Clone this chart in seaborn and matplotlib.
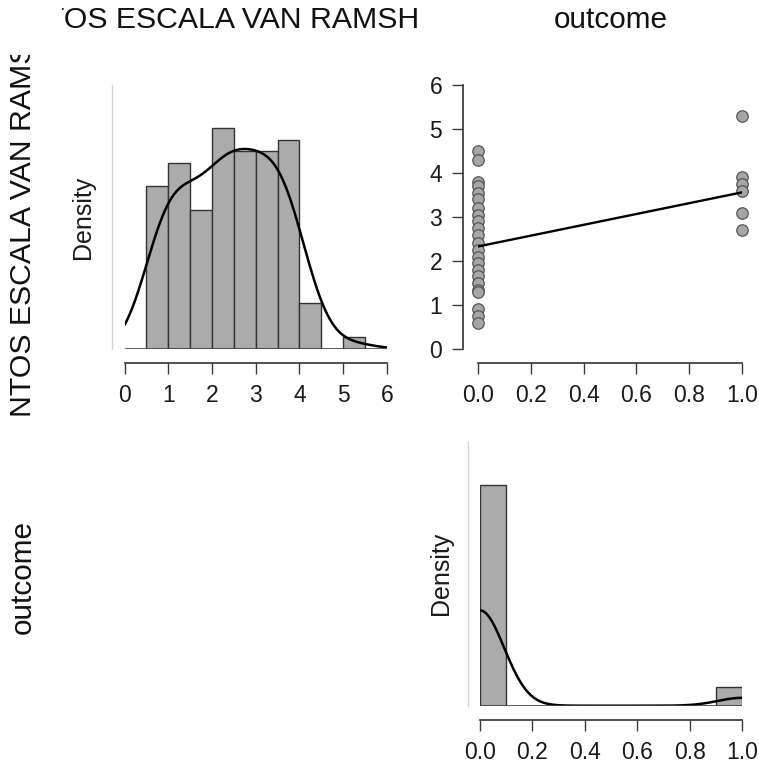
import numpy as np
import pandas as pd
import matplotlib.pyplot as plt
import seaborn as sns
from matplotlib.transforms import Bbox

# ---------------------------------------------------------
# data
# ---------------------------------------------------------
score_label = "PUNTOS ESCALA VAN RAMSHORST"
outcome_label = "outcome"

# histogram of the scale score (counts per bin of width 0.5)
score_bin_edges = [0.5, 1.0, 1.5, 2.0, 2.5, 3.0, 3.5, 4.0, 4.5, 5.0, 5.5]
score_bin_counts = [14, 16, 12, 19, 17, 17, 18, 4, 0, 1]

# outcome (binary) counts
outcome_levels = [0, 1]
outcome_counts = [109, 9]
outcome_bin_edges = [0.0, 0.1, 0.2, 0.3, 0.4, 0.5, 0.6, 0.7, 0.8, 0.9, 1.0]

# scatter: distinct score values seen in each outcome group
score_outcome0 = [4.5, 4.3, 3.8, 3.7, 3.55, 3.4, 3.2, 3.05, 2.9, 2.75, 2.6,
                  2.4, 2.25, 2.1, 1.95, 1.8, 1.65, 1.5, 1.35, 1.3,
                  0.9, 0.75, 0.6]
score_outcome1 = [5.3, 3.9, 3.75, 3.6, 3.1, 2.7]
outcome_group_means = [2.33, 3.56]

score_ticks = [0, 1, 2, 3, 4, 5, 6]
outcome_ticks = [0.0, 0.2, 0.4, 0.6, 0.8, 1.0]

# ---------------------------------------------------------
# figure setup
# ---------------------------------------------------------
sns.set_theme(style="white")
plt.rcParams['font.family'] = ['Liberation Sans', 'DejaVu Sans']

W, H = 759, 765
fig = plt.figure(figsize=(W / 100, H / 100), dpi=100)
renderer = fig.canvas.get_renderer()


def px_axes(left, top, right, bottom):
    return fig.add_axes([left / W, 1 - bottom / H, (right - left) / W, (bottom - top) / H])


def px_text(x, y, s, clip=None, **kw):
    t = fig.text(x / W, 1 - y / H, s, **kw)
    if clip is not None:
        x0, y0, x1, y1 = clip
        t.set_clip_box(Bbox([[x0, H - y1], [x1, H - y0]]))
        t.set_clip_on(True)
    return t


def text_width(s, fs):
    t = fig.text(0, 0, s, fontsize=fs)
    w = t.get_window_extent(renderer).width
    t.remove()
    return w


TICK_FS = 16.5
LAB_FS = 18
TITLE_FS = 21.4
AX_COL = "#3a3a3a"
BAR_COL = "#ababab"
BAR_EDGE = "#333333"


def style_hist(ax, xlim, ticks, left_out, bottom_out):
    sns.despine(ax=ax)
    ax.set_xlim(*xlim)
    ax.spines['left'].set_position(('outward', left_out))
    ax.spines['left'].set_color("#d4d4d4")
    ax.spines['left'].set_linewidth(1.0)
    ax.spines['bottom'].set_position(('outward', bottom_out))
    ax.spines['bottom'].set_bounds(xlim[0], xlim[1])
    ax.spines['bottom'].set_color(AX_COL)
    ax.set_xticks(ticks)
    ax.set_yticks([])
    ax.tick_params(axis='x', bottom=True, direction='out', length=8, width=1,
                   color=AX_COL, labelsize=TICK_FS, pad=7, labelcolor="#1a1a1a")
    ax.set_xlabel("")
    ax.set_ylabel("")
    ax.axhline(0, color="#444444", lw=1.2, zorder=3)
    ax.grid(False)


# ---------------------------------------------------------
# top-left: distribution of the score
# ---------------------------------------------------------
score_centers = [(a + b) / 2 for a, b in zip(score_bin_edges[:-1], score_bin_edges[1:])]
score_values = np.repeat(score_centers, score_bin_counts)

ax1 = px_axes(124.5, 85, 387, 349)
sns.histplot(x=score_values, bins=score_bin_edges, stat="density", color=BAR_COL,
             edgecolor=BAR_EDGE, linewidth=1.0, alpha=1, ax=ax1)
# binned values are lumpier than the raw scores, so widen the kernel a bit
sns.kdeplot(x=score_values, bw_adjust=1.2, clip=(0, 6), cut=5, gridsize=400,
            color="black", lw=1.8, ax=ax1)
top1 = max(p.get_height() for p in ax1.patches)
ax1.set_ylim(0, top1 * 1.196)
style_hist(ax1, (0, 6), score_ticks, 9, 10)
px_text(83, 217, "Density", rotation=90, ha="center", va="center", fontsize=LAB_FS, color="#1a1a1a")

# ---------------------------------------------------------
# top-right: score vs outcome
# ---------------------------------------------------------
scatter_df = pd.DataFrame({
    "outcome": [0] * len(score_outcome0) + [1] * len(score_outcome1),
    "score": score_outcome0 + score_outcome1,
})

ax2 = px_axes(478, 85, 742, 349)
sns.scatterplot(data=scatter_df, x="outcome", y="score", s=68, color="#a6a6a6",
                edgecolor="#555555", linewidth=0.9, clip_on=False, zorder=2, ax=ax2)
sns.lineplot(x=outcome_levels, y=outcome_group_means, color="black", lw=1.7,
             zorder=3, ax=ax2)
ax2.set_xlim(0, 1)
ax2.set_ylim(0, 6)
sns.despine(ax=ax2)
ax2.spines['left'].set_position(('outward', 10.8))
ax2.spines['left'].set_bounds(0, 6)
ax2.spines['bottom'].set_position(('outward', 10))
ax2.spines['bottom'].set_bounds(0, 1)
for sp in ('left', 'bottom'):
    ax2.spines[sp].set_color(AX_COL)
ax2.set_xticks(outcome_ticks)
ax2.set_xticklabels([f"{t:.1f}" for t in outcome_ticks])
ax2.set_yticks(score_ticks)
ax2.tick_params(axis='both', bottom=True, left=True, direction='out', length=8, width=1,
                color=AX_COL, labelsize=TICK_FS, pad=7, labelcolor="#1a1a1a")
ax2.set_xlabel("")
ax2.set_ylabel("")
ax2.grid(False)

# ---------------------------------------------------------
# bottom-right: distribution of outcome
# ---------------------------------------------------------
outcome_values = np.repeat(outcome_levels, outcome_counts).astype(float)

ax3 = px_axes(480, 441.7, 742, 705.7)
sns.histplot(x=outcome_values, bins=outcome_bin_edges, stat="density", color=BAR_COL,
             edgecolor=BAR_EDGE, linewidth=1.0, alpha=1, ax=ax3)
sns.kdeplot(x=outcome_values, bw_adjust=0.9, clip=(0, 1), cut=5, gridsize=400,
            color="black", lw=1.8, ax=ax3)
top3 = max(p.get_height() for p in ax3.patches)
ax3.set_ylim(0, top3 * 1.196)
style_hist(ax3, (0, 1), outcome_ticks, 8.6, 10.3)
ax3.set_xticklabels([f"{t:.1f}" for t in outcome_ticks])
px_text(441, 573, "Density", rotation=90, ha="center", va="center", fontsize=LAB_FS, color="#1a1a1a")

# ---------------------------------------------------------
# row / column headers
# the long score label is wider than its cell and gets cut, as in the original
# ---------------------------------------------------------
fs0 = 20
w_to_h = text_width("PUNTOS ESCALA VAN RAMSH", fs0)
w_to_t = text_width("PUNT", fs0)
label_fs = fs0 * (418 - 64) / (w_to_h - w_to_t)
head_x = 418 - w_to_h * label_fs / fs0
side_y = 415 + text_width("PU", label_fs) + 2

px_text(head_x, 27.5, score_label, ha="left", va="baseline", fontsize=label_fs,
        color="#111111", clip=(62, 0, 418, 50))
px_text(611, 27.5, outcome_label, ha="center", va="baseline", fontsize=TITLE_FS,
        color="#111111")
px_text(23, side_y, score_label, rotation=90, ha="center", va="bottom", fontsize=label_fs,
        color="#111111", clip=(0, 55, 50, 416))
px_text(23, 577, outcome_label, rotation=90, ha="center", va="center", fontsize=TITLE_FS,
        color="#111111")

fig.savefig("out.png", dpi=100, facecolor="white")
